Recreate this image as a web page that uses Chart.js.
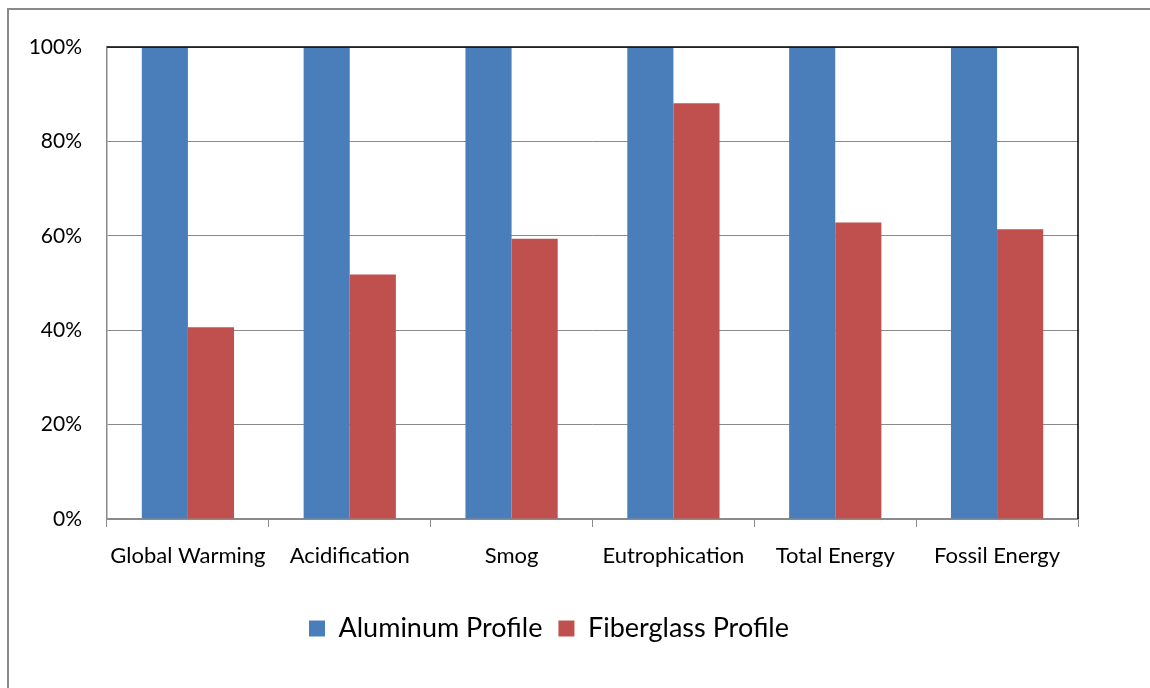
<!DOCTYPE html>
<html>
<head>
<meta charset="utf-8">
<script src="https://cdn.jsdelivr.net/npm/chart.js@4/dist/chart.umd.min.js"></script>
<style>
  html, body { margin: 0; padding: 0; background: #fff; }
  #wrap { position: absolute; left: 0; top: 0; width: 1150px; height: 688px; overflow: hidden; }
  #frame { position: absolute; left: 7px; top: 8px; width: 1300px; height: 900px; border: 2px solid #8a8a8a; box-sizing: border-box; }
  canvas { position: absolute; left: 0; top: 0; }
</style>
</head>
<body>
<div id="wrap">
  <div id="frame"></div>
  <canvas id="c" width="1150" height="688"></canvas>
</div>
<script>
const categories = ["Global Warming", "Acidification", "Smog", "Eutrophication", "Total Energy", "Fossil Energy"];
const seriesNames = ["Aluminum Profile", "Fiberglass Profile"];
const aluminumValues = [100, 100, 100, 100, 100, 100];
const fiberglassValues = [40.6, 51.8, 59.4, 88.1, 62.8, 61.4];
const yTickValues = [0, 20, 40, 60, 80, 100];

const FONT = "Lato, 'Open Sans', sans-serif";

const frameLines = {
  id: 'frameLines',
  afterDatasetsDraw(chart) {
    const { ctx, chartArea: a } = chart;
    ctx.save();
    ctx.strokeStyle = '#000';
    ctx.lineWidth = 1.5;
    ctx.beginPath();
    ctx.moveTo(a.left, a.top);
    ctx.lineTo(a.right, a.top);
    ctx.lineTo(a.right, a.bottom);
    ctx.stroke();
    ctx.restore();
  }
};

new Chart(document.getElementById('c'), {
  type: 'bar',
  data: {
    labels: categories,
    datasets: [
      { label: seriesNames[0], data: aluminumValues, backgroundColor: '#4A7EBB', borderWidth: 0 },
      { label: seriesNames[1], data: fiberglassValues, backgroundColor: '#C0504D', borderWidth: 0 }
    ]
  },
  options: {
    responsive: false,
    animation: false,
    devicePixelRatio: 1,
    layout: { padding: { left: 20, top: 47, right: 72, bottom: 36 } },
    datasets: { bar: { categoryPercentage: 0.57, barPercentage: 1.0 } },
    plugins: {
      tooltip: { enabled: false },
      legend: {
        position: 'bottom',
        labels: {
          font: { family: FONT, size: 27 },
          color: '#000',
          boxWidth: 16,
          boxHeight: 16,
          padding: 16
        }
      }
    },
    scales: {
      x: {
        grid: { display: true, drawOnChartArea: false, drawTicks: true, tickLength: 8, color: '#8a8a8a', lineWidth: 1 },
        border: { display: true, color: '#8a8a8a', width: 1.5 },
        ticks: { font: { family: FONT, size: 22 }, color: '#000', padding: 16, maxRotation: 0, autoSkip: false },
        afterFit(scale) { scale.height = 80; }
      },
      y: {
        min: 0,
        max: 100,
        afterBuildTicks(scale) { scale.ticks = yTickValues.map(v => ({ value: v })); },
        grid: { color: '#8a8a8a', lineWidth: 1, drawTicks: false },
        border: { display: true, color: '#8a8a8a', width: 1.5 },
        ticks: { font: { family: FONT, size: 21 }, color: '#000', padding: 25, callback: v => v + '%' },
        afterFit(scale) { scale.width = 87; }
      }
    }
  },
  plugins: [frameLines]
});
</script>
</body>
</html>
